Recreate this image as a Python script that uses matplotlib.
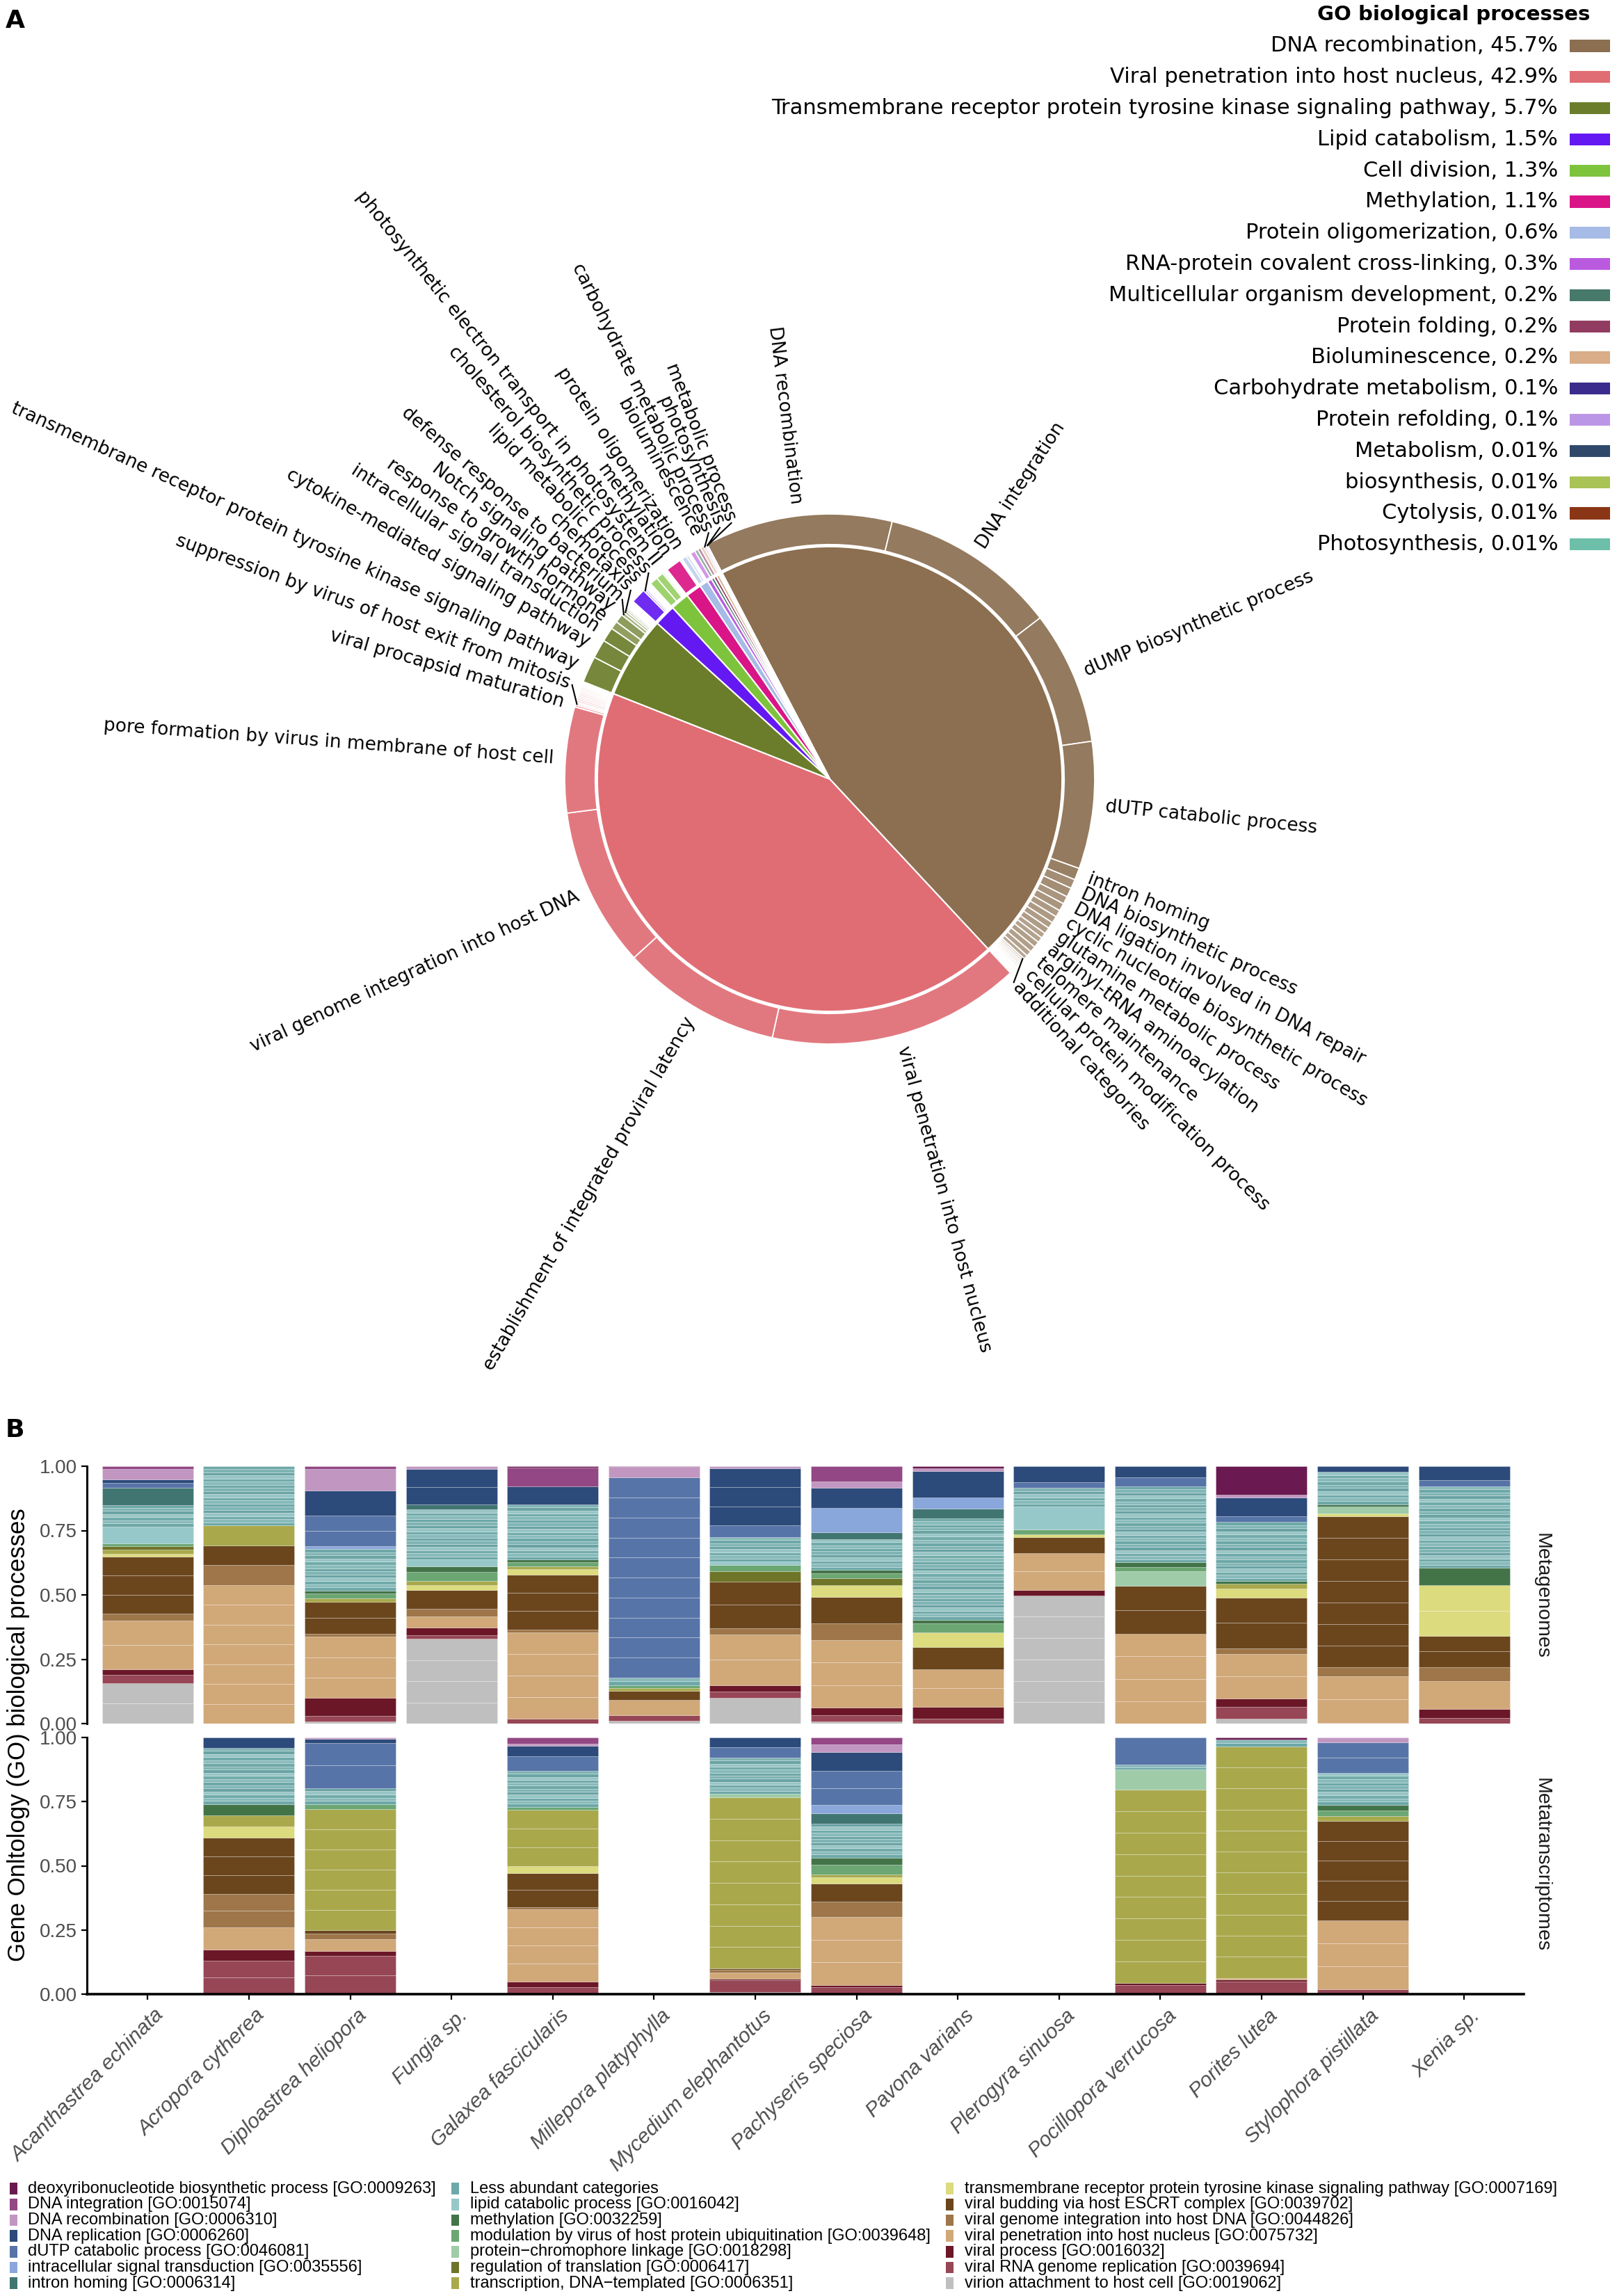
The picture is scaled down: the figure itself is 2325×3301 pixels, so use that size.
import numpy as np
import matplotlib
matplotlib.use('Agg')
import matplotlib.pyplot as plt
from matplotlib.patches import Rectangle
from matplotlib.colors import to_rgba
from matplotlib.transforms import ScaledTranslation

# ---------------- panel A: GO pie ----------------
go_names = ['DNA recombination', 'Viral penetration into host nucleus',
            'Transmembrane receptor protein tyrosine kinase signaling pathway',
            'Lipid catabolism', 'Cell division', 'Methylation', 'Protein oligomerization',
            'RNA-protein covalent cross-linking', 'Multicellular organism development',
            'Protein folding', 'Bioluminescence', 'Carbohydrate metabolism',
            'Protein refolding', 'Metabolism', 'biosynthesis', 'Cytolysis', 'Photosynthesis']
go_pct = [45.7, 42.9, 5.7, 1.5, 1.3, 1.1, 0.6, 0.3, 0.2, 0.2, 0.2, 0.1, 0.1,
          0.01, 0.01, 0.01, 0.01]
go_colors = ['#8B6F50', '#E06D74', '#6B7D2A', '#6419F2', '#7DC33C', '#DA1587',
             '#A6BBE5', '#BA5BDF', '#46796A', '#923B60', '#D8AD88', '#3B2B8C',
             '#BC96E6', '#30496A', '#AAC356', '#8A3616', '#6EBFA9']

# outer ring: sub terms of every category (label, percent)
sub_recombination = [('DNA recombination', 11.4), ('DNA integration', 10.75),
                     ('dUMP biosynthetic process', 8.08), ('dUTP catabolic process', 7.72),
                     ('intron homing', 0.72), ('DNA biosynthetic process', 0.56),
                     ('DNA ligation involved in DNA repair', 0.56),
                     ('cyclic nucleotide biosynthetic process', 0.47),
                     ('glutamine metabolic process', 0.47), ('arginyl-tRNA aminoacylation', 0.42),
                     ('telomere maintenance', 0.42), ('cellular protein modification process', 0.39),
                     (None, 0.39), (None, 0.33), (None, 0.33), (None, 0.36), (None, 0.36),
                     (None, 0.33), (None, 0.25),
                     ('additional categories', 0.12), (None, 0.11), (None, 0.10), (None, 0.10),
                     (None, 0.09), (None, 0.09), (None, 0.08), (None, 0.08), (None, 0.08),
                     (None, 0.07), (None, 0.07), (None, 0.07), (None, 0.06), (None, 0.06)]
sub_penetration = [('viral penetration into host nucleus', 15.47),
                   ('establishment of integrated proviral latency', 9.78),
                   ('viral genome integration into host DNA', 9.75),
                   ('pore formation by virus in membrane of host cell', 6.47),
                   ('viral procapsid maturation', 0.14),
                   ('suppression by virus of host exit from mitosis', 0.10), (None, 0.08),
                   (None, 0.11), (None, 0.11), (None, 0.10), (None, 0.10), (None, 0.10),
                   (None, 0.10), (None, 0.09), (None, 0.09), (None, 0.09), (None, 0.09),
                   (None, 0.08), (None, 0.08), (None, 0.07), (None, 0.07)]
sub_transmembrane = [('transmembrane receptor protein tyrosine kinase signaling pathway', 1.64),
                     ('cytokine-mediated signaling pathway', 1.17),
                     ('intracellular signal transduction', 0.89),
                     ('response to growth hormone', 0.50), ('Notch signaling pathway', 0.53),
                     ('defense response to bacterium', 0.20), ('chemotaxis', 0.15),
                     (None, 0.12), (None, 0.10), (None, 0.08), (None, 0.07), (None, 0.06),
                     (None, 0.05), (None, 0.05), (None, 0.05), (None, 0.05), (None, 0.05),
                     (None, 0.05)]
sub_lipid = [('lipid metabolic process', 0.90), ('cholesterol biosynthetic process', 0.12),
             (None, 0.10), (None, 0.08), (None, 0.08), (None, 0.07), (None, 0.07), (None, 0.06)]
sub_division = [('photosynthetic electron transport in photosystem II', 0.50), (None, 0.45),
                (None, 0.10), (None, 0.08), (None, 0.07), (None, 0.05), (None, 0.05)]
sub_methylation = [('methylation', 0.95), (None, 0.08), (None, 0.07)]
sub_oligomerization = [('protein oligomerization', 0.30), (None, 0.15), (None, 0.08), (None, 0.07)]
sub_bioluminescence = [('bioluminescence', 0.2)]
sub_carbohydrate = [('carbohydrate metabolic process', 0.1)]
sub_photosynthesis = [('photosynthesis', 0.005), ('metabolic process', 0.005)]
go_subs = [sub_recombination, sub_penetration, sub_transmembrane, sub_lipid, sub_division,
           sub_methylation, sub_oligomerization, [(None, 0.3)], [(None, 0.2)], [(None, 0.2)],
           sub_bioluminescence, sub_carbohydrate, [(None, 0.1)], [(None, 0.01)],
           [(None, 0.01)], [(None, 0.01)], sub_photosynthesis]
# minimum angular spacing (deg) between neighbouring ring labels, per category
label_gap = [3.35, 4.0] + [2.6] * 15

# ---------------- panel B: stacked bars ----------------
species = ['Acanthastrea echinata', 'Acropora cytherea', 'Diploastrea heliopora', 'Fungia sp.',
           'Galaxea fascicularis', 'Millepora platyphylla', 'Mycedium elephantotus',
           'Pachyseris speciosa', 'Pavona varians', 'Plerogyra sinuosa',
           'Pocillopora verrucosa', 'Porites lutea', 'Stylophora pistillata', 'Xenia sp.']

term_keys = ['deoxy', 'dint', 'drec', 'drep', 'dutp', 'intra', 'intron', 'less', 'lipid', 'meth',
             'ubiq', 'chrom', 'regtr', 'transc', 'tmr', 'vbud', 'vgen', 'vpen', 'vproc', 'vRNA',
             'virion']
term_labels = ['deoxyribonucleotide biosynthetic process [GO:0009263]',
               'DNA integration [GO:0015074]', 'DNA recombination [GO:0006310]',
               'DNA replication [GO:0006260]', 'dUTP catabolic process [GO:0046081]',
               'intracellular signal transduction [GO:0035556]', 'intron homing [GO:0006314]',
               'Less abundant categories', 'lipid catabolic process [GO:0016042]',
               'methylation [GO:0032259]',
               'modulation by virus of host protein ubiquitination [GO:0039648]',
               'protein\u2212chromophore linkage [GO:0018298]',
               'regulation of translation [GO:0006417]',
               'transcription, DNA\u2212templated [GO:0006351]',
               'transmembrane receptor protein tyrosine kinase signaling pathway [GO:0007169]',
               'viral budding via host ESCRT complex [GO:0039702]',
               'viral genome integration into host DNA [GO:0044826]',
               'viral penetration into host nucleus [GO:0075732]',
               'viral process [GO:0016032]', 'viral RNA genome replication [GO:0039694]',
               'virion attachment to host cell [GO:0019062]']
term_colors = ['#6A1A50', '#934784', '#C197C1', '#2C4A7A', '#5774A8', '#89A7DB', '#417572',
               '#6EA8A8', '#97C8C9', '#437448', '#6BA673', '#9FCBA8', '#6E7428', '#A9A94C',
               '#DCDB7E', '#6B461D', '#9E7649', '#D1A878', '#6B1728', '#964655', '#BFBFBF']
less_shades = ['#6EA8A8', '#88BABA', '#72ABAB', '#98C5C5', '#6AA3A4', '#80B4B4']

# percent of each term per species
metagenome = {
    'Acanthastrea echinata': dict(virion=15.7, vRNA=3.3, vproc=2.2, vpen=18.8, vgen=2.7, vbud=22.2,
                                  tmr=1.0, transc=1.6, regtr=1.5, ubiq=1.0, lipid=6.6, less=8.4,
                                  intron=6.5, dutp=2.0, drep=1.5, drec=4.0, dint=1.0),
    'Acropora cytherea': dict(vpen=53.9, vgen=7.6, vbud=7.8, transc=7.6, less=23.1),
    'Diploastrea heliopora': dict(virion=0.7, vRNA=2.3, vproc=7.0, vpen=23.7, vgen=1.1, vbud=12.5,
                                  transc=1.3, ubiq=1.9, meth=1.2, less=16.1, intra=1.0, dutp=12.0,
                                  drep=9.7, drec=8.3, dint=1.2),
    'Fungia sp.': dict(virion=32.9, vRNA=1.5, vproc=2.9, vpen=4.4, vgen=3.0, vbud=7.3, tmr=1.7,
                       transc=1.6, ubiq=3.6, meth=2.2, lipid=2.6, less=19.5, intron=2.0,
                       drep=13.6, drec=1.2),
    'Galaxea fascicularis': dict(vRNA=1.8, vpen=33.6, vgen=1.2, vbud=21.2, tmr=2.2, transc=1.2,
                                 ubiq=1.5, meth=1.0, less=21.5, drep=7.0, dint=7.3, deoxy=0.5),
    'Millepora platyphylla': dict(virion=1.2, vRNA=2.0, vpen=5.9, vbud=3.6, transc=1.1, ubiq=1.1,
                                  less=3.0, dutp=77.7, drec=4.0, dint=0.4),
    'Mycedium elephantotus': dict(virion=10.0, vRNA=2.4, vproc=2.5, vpen=19.8, vgen=2.3, vbud=18.2,
                                  regtr=4.1, ubiq=2.2, lipid=1.5, less=9.5, dutp=4.4, drep=22.4,
                                  drec=0.7),
    'Pachyseris speciosa': dict(virion=0.7, vRNA=2.5, vproc=2.9, vpen=26.4, vgen=6.3, vbud=10.5,
                                tmr=4.4, regtr=2.7, ubiq=1.9, meth=1.4, less=12.0, intron=2.7,
                                intra=9.3, drep=7.8, drec=2.6, dint=5.9),
    'Pavona varians': dict(vRNA=2.0, vproc=4.6, vpen=14.6, vbud=8.4, tmr=5.8, ubiq=3.4, meth=1.5,
                           less=39.5, intron=3.7, intra=4.3, drep=10.3, drec=1.2, deoxy=0.7),
    'Plerogyra sinuosa': dict(virion=49.8, vproc=2.2, vpen=14.2, vbud=6.3, tmr=1.0, ubiq=1.9,
                              lipid=8.8, less=7.3, dutp=2.2, drep=6.3),
    'Pocillopora verrucosa': dict(vpen=34.8, vbud=18.6, chrom=5.9, ubiq=1.5, meth=1.9, less=29.5,
                                  dutp=3.4, drep=4.4),
    'Porites lutea': dict(virion=1.8, vRNA=4.8, vproc=3.2, vpen=17.3, vgen=2.2, vbud=19.7, tmr=3.3,
                          transc=1.9, meth=1.1, less=23.0, dutp=2.2, drep=7.3, drec=1.2, deoxy=11.0),
    'Stylophora pistillata': dict(vRNA=0.4, vpen=17.9, vgen=3.7, vbud=58.5, tmr=1.1, chrom=2.6,
                                  meth=1.0, less=12.6, drep=2.2),
    'Xenia sp.': dict(vRNA=2.2, vproc=3.4, vpen=10.8, vgen=5.6, vbud=12.0, tmr=19.7, meth=6.8,
                      less=31.7, dutp=2.5, drep=5.3),
}
metatranscriptome = {
    'Acropora cytherea': dict(vRNA=12.9, vproc=4.4, vpen=8.8, vgen=13.0, vbud=21.8, tmr=4.3,
                              transc=4.4, meth=4.4, less=22.0, drep=4.0),
    'Diploastrea heliopora': dict(vRNA=14.8, vproc=2.1, vpen=4.5, vgen=2.2, vbud=1.3, transc=47.2,
                                  ubiq=1.9, less=6.3, dutp=17.6, drep=1.5, drec=0.6),
    'Galaxea fascicularis': dict(vRNA=2.6, vproc=2.2, vpen=28.2, vgen=0.9, vbud=13.3, tmr=2.7,
                                 transc=21.9, ubiq=1.2, less=14.0, dutp=5.8, drep=4.0, drec=0.7,
                                 dint=2.5),
    'Mycedium elephantotus': dict(virion=0.9, vRNA=4.4, vproc=0.6, vpen=2.6, vgen=1.0, vbud=0.5,
                                  transc=66.7, chrom=1.4, less=14.0, dutp=4.1, drep=3.8),
    'Pachyseris speciosa': dict(vRNA=2.6, vproc=0.8, vpen=26.8, vgen=5.9, vbud=6.9, tmr=2.5,
                                transc=1.1, ubiq=3.7, meth=2.9, less=13.2, intron=4.1, intra=3.2,
                                dutp=13.3, drep=7.3, drec=2.9, dint=2.8),
    'Pocillopora verrucosa': dict(vRNA=3.4, vproc=1.0, transc=75.2, chrom=7.8, less=2.0, dutp=10.6),
    'Porites lutea': dict(vRNA=4.8, vproc=0.8, vpen=0.7, transc=90.2, less=2.7, deoxy=0.8),
    'Stylophora pistillata': dict(vRNA=1.9, vpen=26.8, vbud=38.7, transc=2.0, ubiq=2.2, meth=2.2,
                                  less=12.4, dutp=12.0, drec=1.8),
}

W, H = 2325, 3301
fig = plt.figure(figsize=(W / 100, H / 100), dpi=100)


def fx(px):
    return px / W


def fy(py):
    return 1 - py / H


# ================= A =================
cx, cy, R = 1193, 1120, 381
lim = 1.2
axp = fig.add_axes([fx(cx - lim * R), fy(cy + lim * R), 2 * lim * R / W, 2 * lim * R / H])
start = 117.6
total = sum(go_pct)

ax_vals, ax_cols, labs, gaps = [], [], [], []
for k, subs in enumerate(go_subs):
    s = sum(v for _, v in subs)
    for lab, v in subs:
        val = v / s * go_pct[k]
        ax_vals.append(val)
        alpha = min(0.92, 0.45 + 0.6 * val)
        ax_cols.append(to_rgba(go_colors[k], alpha))
        labs.append(lab)
        gaps.append(label_gap[k])

axp.pie(go_pct, radius=0.877, startangle=start, counterclock=False, colors=go_colors,
        wedgeprops=dict(edgecolor='white', linewidth=1.5))
axp.pie(ax_vals, radius=1.0, startangle=start, counterclock=False, colors=ax_cols,
        wedgeprops=dict(width=0.115, edgecolor='white', linewidth=1.3))
axp.set_xlim(-lim, lim)
axp.set_ylim(-lim, lim)
axp.set_aspect('equal')
axp.axis('off')

cum = 0.0
prev = None
r_lab = 1.045
for val, lab, gap in zip(ax_vals, labs, gaps):
    mid = start - (cum + val / 2) / total * 360
    cum += val
    if lab is None:
        continue
    ang = mid if prev is None else min(mid, prev - gap)
    prev = ang
    a = ang % 360
    if 90 < a < 270:
        rot, ha = a - 180, 'right'
    else:
        rot, ha = (a if a <= 90 else a - 360), 'left'
    t = np.deg2rad(ang)
    axp.text(r_lab * np.cos(t), r_lab * np.sin(t), lab, rotation=rot, rotation_mode='anchor',
             ha=ha, va='center', fontsize=19, clip_on=False)
    if val < 0.25 and abs(ang - mid) > 0.8:
        m = np.deg2rad(mid)
        axp.plot([0.995 * np.cos(m), 1.035 * np.cos(t)], [0.995 * np.sin(m), 1.035 * np.sin(t)],
                 color='black', lw=1.5, clip_on=False)

# legend of panel A
fig.text(fx(2286), fy(21), 'GO biological processes', ha='right', va='center',
         fontsize=21, weight='bold')
for i, (nm, p, c) in enumerate(zip(go_names, go_pct, go_colors)):
    yc = 66 + i * 44.8
    fig.text(fx(2240), fy(yc), f'{nm}, {p:g}%', ha='right', va='center', fontsize=22)
    fig.add_artist(Rectangle((fx(2257), fy(yc + 8.5)), 58 / W, 17 / H,
                             transform=fig.transFigure, color=c, lw=0))

fig.text(fx(8), fy(30), 'A', fontsize=26, weight='bold', va='center', ha='left')
fig.text(fx(8), fy(2056), 'B', fontsize=26, weight='bold', va='center', ha='left')

# ================= B =================
bfont = 'Liberation Sans'
color_of = dict(zip(term_keys, term_colors))
stack_order = term_keys[::-1]

ax_top = fig.add_axes([fx(125), fy(2478), (2191 - 125) / W, 370 / H])
ax_bot = fig.add_axes([fx(125), fy(2867), (2191 - 125) / W, 369 / H])


def draw_panel(ax, table):
    xs, hs, bs, cs = [], [], [], []
    for i, sp in enumerate(species):
        if sp not in table:
            continue
        row = table[sp]
        bottom = 0.0
        for key in stack_order:
            v = row.get(key, 0) / 100
            if v <= 0:
                continue
            step = 0.012 if key == 'less' else 0.08
            n = max(1, int(round(v / step)))
            for j in range(n):
                xs.append(i)
                hs.append(v / n)
                bs.append(bottom + j * v / n)
                cs.append(less_shades[j % len(less_shades)] if key == 'less' else color_of[key])
            bottom += v
    ax.bar(xs, hs, bottom=bs, width=0.9, color=cs, edgecolor=(1, 1, 1, 0.35), linewidth=0.5)
    ax.set_xlim(-0.6, 13.59)
    ax.set_ylim(0, 1)
    ax.set_yticks([0, 0.25, 0.5, 0.75, 1.0])
    ax.set_yticklabels(['0.00', '0.25', '0.50', '0.75', '1.00'], fontsize=20,
                       color='#4D4D4D', family=bfont)
    for s in ['top', 'right']:
        ax.spines[s].set_visible(False)
    ax.spines['left'].set_linewidth(2.2)
    ax.spines['bottom'].set_linewidth(2.6)
    ax.tick_params(axis='y', length=6, width=1.6, pad=4)


draw_panel(ax_top, metagenome)
draw_panel(ax_bot, metatranscriptome)
ax_top.spines['bottom'].set_visible(False)
ax_top.set_xticks([])
ax_bot.set_xticks(range(len(species)))
ax_bot.set_xticklabels(species, rotation=45, ha='right', rotation_mode='anchor', fontsize=21.5,
                       style='italic', color='#4D4D4D', family=bfont)
ax_bot.tick_params(axis='x', length=6, width=1.6, pad=6)
shift = ScaledTranslation(9 / 100, 0, fig.dpi_scale_trans)
for lbl in ax_bot.get_xticklabels():
    lbl.set_transform(lbl.get_transform() + shift)

fig.text(fx(27), fy(2494), 'Gene Onltology (GO) biological processes', rotation=90,
         ha='center', va='center', fontsize=25, family=bfont)
fig.text(fx(2217), fy(2294), 'Metagenomes', rotation=270, ha='center', va='center',
         fontsize=20.5, color='#1A1A1A', family=bfont)
fig.text(fx(2217), fy(2681), 'Metatranscriptomes', rotation=270, ha='center', va='center',
         fontsize=20.5, color='#1A1A1A', family=bfont)

# legend of panel B: 3 columns x 7 rows
col_sw = [14, 649, 1360]
col_tx = [40, 676, 1387]
for idx, (lab, c) in enumerate(zip(term_labels, term_colors)):
    col, row = divmod(idx, 7)
    yc = 3146.7 + row * 22.67
    fig.add_artist(Rectangle((fx(col_sw[col]), fy(yc + 8.3)), 11 / W, 16.6 / H,
                             transform=fig.transFigure, color=c, lw=0))
    fig.text(fx(col_tx[col]), fy(yc), lab, ha='left', va='center', fontsize=17, family=bfont)

fig.savefig('out.png', dpi=100)
